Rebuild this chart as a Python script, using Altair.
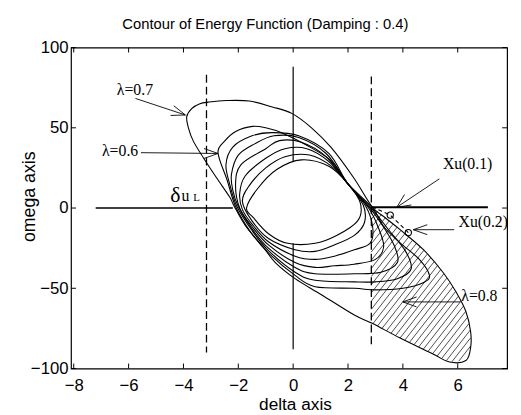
import altair as alt
import numpy as np
import pandas as pd

XMIN, XMAX = -8.1, 7.8
YMIN, YMAX = -100, 100
W, H = 443, 326

TITLE = "Contour of Energy Function (Damping : 0.4)"
X_TITLE = "delta axis"
Y_TITLE = "omega axis"
x_ticks = [-8, -6, -4, -2, 0, 2, 4, 6]
y_ticks = [-100, -50, 0, 50, 100]

# outer contour (lambda = 0.7), pinched at the saddle Xu
outer_d = [-3.88, -3.7, -3.4, -3.1, -2.44, -1.6, -0.76, -0.05, 0.67, 1.39, 2.2, 2.88, 3.3, 3.9, 4.74,
           5.46, 5.93, 6.3, 6.47, 6.47, 6.3, 5.7, 5.1, 3.9, 2.88, 2.23, 1.03, 0.07, -0.65, -1.12,
           -1.72, -2.14, -2.32, -2.8, -3.28, -3.64, -3.82]
outer_w = [57, 62, 65, 66, 67, 66.7, 63, 59, 50, 37.6, 19, 0.8, -5.3, -13.5, -25.8,
           -40, -52, -64.6, -77, -87, -95, -96, -91, -81, -71.8, -66.7, -54, -44, -34, -23.7,
           -11.5, 0.8, 7, 19, 31.5, 41.7, 50]

# inner contours, innermost (c0) to lambda = 0.6 (c6)
c0_d = [-1.7, -1.3, -0.6, 0.3, 1.3, 2.0, 2.45, 2.35, 1.6, 0.8, -0.2, -0.9, -1.45]
c0_w = [0, 12, 24, 30, 26, 15, 3, -8, -17, -22, -22, -16, -6]
c1_d = [-1.85, -1.6, -1.0, -0.3, 0.6, 1.4, 2.0, 2.55, 2.6, 2.23, 1.5, 0.8, 0.07, -0.9, -1.5]
c1_w = [4, 14, 25, 32, 33, 26, 15, 2, -9, -17, -23, -27, -26, -19, -8]
c2_d = [-1.95, -1.75, -1.0, -0.3, 0.5, 1.3, 2.0, 2.65, 2.9, 2.8, 2.23, 1.5, 0.8, 0.07, -0.9, -1.5, -1.85]
c2_w = [9, 20, 31, 37, 37, 29, 15, 1, -12, -22, -26, -30, -32, -30, -21, -10, -1]
c3_d = [-2.1, -1.9, -1.0, -0.5, 0.3, 1.2, 2.0, 2.75, 3.1, 3.3, 3.0, 2.23, 1.5, 0.8, 0.07, -0.9, -1.5, -1.95]
c3_w = [15, 27, 37, 42, 41, 32, 15, 0, -12, -24, -32, -35, -36, -37, -34, -23, -11.5, 0]
c4_d = [-2.25, -2.0, -1.4, -0.7, 0.2, 1.2, 2.0, 2.8, 3.3, 3.7, 3.8, 3.2, 2.23, 0.8, 0.07, -0.9, -1.5, -2.0, -2.2]
c4_w = [21, 33, 40, 45, 44, 34, 15, 0, -12, -24, -34, -40, -41, -41, -37, -25, -13, 1, 11]
c5_d = [-2.45, -2.2, -1.5, -0.8, 0.2, 1.3, 2.0, 2.85, 3.5, 4.1, 4.3, 3.8, 3.0, 2.23, 0.8, 0.07, -0.9, -1.5, -2.05, -2.3]
c5_w = [27, 38, 45, 47, 45, 34, 15, 0, -14, -27, -38, -44, -46, -46, -45, -40, -26.5, -14, 1, 14]
c6_d = [-2.74, -2.5, -2.08, -1.48, -1.0, -0.4, 0.43, 1.39, 2.0, 2.9, 3.3, 3.9, 4.6, 4.97, 4.74, 4.0, 3.0,
        2.23, 0.8, 0.07, -0.9, -1.55, -2.1, -2.4]
c6_w = [34.5, 41.7, 47.9, 50.9, 50, 46.8, 39.7, 29.4, 15, 0, -11.5, -21.7, -32, -42, -46.5, -50, -51,
        -50, -49, -42, -28, -15, 1, 17]

# straight reference lines
solid_lines = {
    "h0a": ([-7.2, -2.2], [0, 0], 1.6),
    "h0b": ([2.85, 7.1], [0.5, 0.5], 2.0),
    "v0a": ([0, 0], [88, 29], 1.2),
    "v0b": ([0, 0], [-22, -88], 1.2),
}
dashed_lines = {
    "dl": ([-3.16, -3.16], [83, -90]),
    "dr": ([2.85, 2.85], [82, -86]),
}
xu_path_d = [2.88, 3.54, 4.2]
xu_path_w = [0.8, -4.4, -15.3]
xu_pts_d = [3.54, 4.2]
xu_pts_w = [-4.4, -15.3]

# leader lines and arrow heads
leaders = {
    "l07": ([-5.75, -3.93], [68.3, 58]),
    "l07a": ([-4.35, -3.93, -4.47], [63.7, 58, 57.7]),
    "l06": ([-5.55, -2.74], [34.5, 34]),
    "l06a": ([-3.25, -2.74, -3.25], [37.1, 34, 30.9]),
    "x1": ([5.33, 3.78], [18.2, 0.5]),
    "x1a": ([4.06, 3.78, 4.31], [8.4, 0.5, 1.9]),
    "x2": ([5.87, 4.38], [-13.5, -13.5]),
    "x2a": ([4.89, 4.38, 4.89], [-10.4, -13.5, -16.6]),
    "l08": ([4.0, 6.1], [-58.5, -58.5]),
    "l08a": ([4.5, 4.0, 4.5], [-55.4, -58.5, -61.6]),
}

label_text = ["λ=0.7", "λ=0.6", "Xu(0.1)", "Xu(0.2)", "λ=0.8", "δ", "u", "L"]
label_d = [-5.77, -6.31, 6.36, 6.93, 6.79, -4.3, -3.93, -3.52]
label_w = [73.6, 35.6, 27.6, -8.6, -55, 8, 7.5, 6.5]
label_fs = [16, 16, 16, 16, 16, 22, 16, 11]

# ---------------------------------------------------------------------------
def to_px(d, w):
    d = np.asarray(d, float)
    w = np.asarray(w, float)
    return (d - XMIN) / (XMAX - XMIN) * W, (YMAX - w) / (YMAX - YMIN) * H


def to_data(x, y):
    return x / W * (XMAX - XMIN) + XMIN, YMAX - y / H * (YMAX - YMIN)


# hatched region: right of the dashed line, inside the outer contour
hatch_d = [2.85] + outer_d[11:25] + [2.85]
hatch_w = [0.5] + outer_w[11:25] + [-71.5]
hx, hy = to_px(hatch_d, hatch_w)
cot = 1.0 / np.tan(np.radians(52))
u = hx + hy * cot
segs = []
n = len(hx)
for c in np.arange(u.min() + 3, u.max(), 6.5):
    pts = []
    for k in range(n):
        j = (k + 1) % n
        u1, u2 = u[k], u[j]
        if (u1 - c) * (u2 - c) < 0:
            t = (c - u1) / (u2 - u1)
            pts.append((hx[k] + t * (hx[j] - hx[k]), hy[k] + t * (hy[j] - hy[k])))
    pts.sort(key=lambda p: p[1])
    for a in range(0, len(pts) - 1, 2):
        da, wa = to_data(*pts[a])
        db, wb = to_data(*pts[a + 1])
        segs.append(dict(d=da, w=wa, d2=db, w2=wb))
hatch_df = pd.DataFrame(segs)

curves = {"outer": (outer_d, outer_w), "c0": (c0_d, c0_w), "c1": (c1_d, c1_w), "c2": (c2_d, c2_w),
          "c3": (c3_d, c3_w), "c4": (c4_d, c4_w), "c5": (c5_d, c5_w), "c6": (c6_d, c6_w)}
rows = []
for name, (ds, ws) in curves.items():
    for i, (d, w) in enumerate(zip(ds, ws)):
        rows.append(dict(curve=name, i=i, d=d, w=w))
curve_df = pd.DataFrame(rows)

rows = []
for name, (ds, ws, sw) in solid_lines.items():
    for i, (d, w) in enumerate(zip(ds, ws)):
        rows.append(dict(seg=name, i=i, d=d, w=w, sw=sw))
solid_df = pd.DataFrame(rows)

rows = []
for name, (ds, ws) in dashed_lines.items():
    for i, (d, w) in enumerate(zip(ds, ws)):
        rows.append(dict(seg=name, i=i, d=d, w=w))
dash_df = pd.DataFrame(rows)

rows = []
for name, (ds, ws) in leaders.items():
    for i, (d, w) in enumerate(zip(ds, ws)):
        rows.append(dict(seg=name, i=i, d=d, w=w))
lead_df = pd.DataFrame(rows)

xu_df = pd.DataFrame(dict(i=range(len(xu_path_d)), d=xu_path_d, w=xu_path_w))
pts_df = pd.DataFrame(dict(d=xu_pts_d, w=xu_pts_w))
lab_df = pd.DataFrame(dict(text=label_text, d=label_d, w=label_w, fs=label_fs))
xt_df = pd.DataFrame(dict(d=x_ticks))
yt_df = pd.DataFrame(dict(w=y_ticks))

xs = alt.Scale(domain=[XMIN, XMAX], nice=False, zero=False)
ys = alt.Scale(domain=[YMIN, YMAX], nice=False, zero=False)
xaxis = alt.Axis(values=x_ticks, ticks=False, domain=False, grid=False, labelFlush=False,
                 labelOverlap=False, labelFont="Liberation Sans", labelFontSize=17,
                 labelColor="black", labelPadding=9, titleFont="Liberation Sans",
                 titleFontSize=17.5, titleFontWeight="normal", titleColor="black",
                 titleX=227.5, titleY=37, titleBaseline="middle", titleAlign="center")
yaxis = alt.Axis(values=y_ticks, ticks=False, domain=False, grid=False, labelFlush=False,
                 labelOverlap=False, labelFont="Liberation Sans", labelFontSize=17,
                 labelColor="black", labelPadding=3, titleFont="Liberation Sans",
                 titleFontSize=18, titleFontWeight="normal", titleColor="black",
                 titleX=-42, titleY=151, titleBaseline="middle", titleAlign="center",
                 titleAngle=270)


def X(f="d"):
    return alt.X(f, type="quantitative", scale=xs, axis=xaxis, title=X_TITLE)


def Y(f="w"):
    return alt.Y(f, type="quantitative", scale=ys, axis=yaxis, title=Y_TITLE)


hatch = alt.Chart(hatch_df).mark_rule(color="black", strokeWidth=0.7).encode(
    x=X(), y=Y(), x2="d2", y2="w2")

contours = alt.Chart(curve_df).mark_line(interpolate="cardinal-closed", color="black",
                                          strokeWidth=1.1).encode(
    x=X(), y=Y(), detail="curve:N", order="i:Q")

solid = alt.Chart(solid_df).mark_line(color="black").encode(
    x=X(), y=Y(), detail="seg:N", order="i:Q", strokeWidth=alt.StrokeWidth("sw:Q", scale=None))

dashed = alt.Chart(dash_df).mark_line(color="black", strokeWidth=1.3, strokeDash=[8, 4]).encode(
    x=X(), y=Y(), detail="seg:N", order="i:Q")

lead = alt.Chart(lead_df).mark_line(color="black", strokeWidth=0.9).encode(
    x=X(), y=Y(), detail="seg:N", order="i:Q")

xu_line = alt.Chart(xu_df).mark_line(color="black", strokeWidth=1.1, strokeDash=[4, 3]).encode(
    x=X(), y=Y(), order="i:Q")

xu_pts = alt.Chart(pts_df).mark_point(shape="circle", filled=False, size=40, color="black",
                                       strokeWidth=1.1, opacity=1).encode(x=X(), y=Y())

labels = alt.Chart(lab_df).mark_text(font="Liberation Serif", color="black", align="center",
                                     baseline="middle").encode(
    x=X(), y=Y(), text="text:N", size=alt.Size("fs:Q", scale=None))

tk = dict(color="black", strokeWidth=1)
xt_bot = alt.Chart(xt_df).mark_rule(**tk).encode(x=X(), y=alt.value(H), y2=alt.value(H - 5))
xt_top = alt.Chart(xt_df).mark_rule(**tk).encode(x=X(), y=alt.value(0), y2=alt.value(5))
yt_l = alt.Chart(yt_df).mark_rule(**tk).encode(y=Y(), x=alt.value(0), x2=alt.value(5))
yt_r = alt.Chart(yt_df).mark_rule(**tk).encode(y=Y(), x=alt.value(W), x2=alt.value(W - 5))

chart = alt.layer(
    hatch, contours, solid, dashed, lead, xu_line, xu_pts, labels, xt_bot, xt_top, yt_l, yt_r
).properties(
    width=W, height=H,
    title=alt.TitleParams(TITLE, font="Liberation Sans", fontSize=15, fontWeight="normal",
                          color="black", anchor="middle", dx=-24, dy=17, offset=12,
                          baseline="alphabetic"),
    autosize=alt.AutoSizeParams(type="none"),
    padding={"left": 64, "top": 37, "right": 6, "bottom": 42},
    background="white",
).configure_view(stroke="black", strokeWidth=1.2)

chart.save("out.html", embed_options={"renderer": "svg", "actions": False})
